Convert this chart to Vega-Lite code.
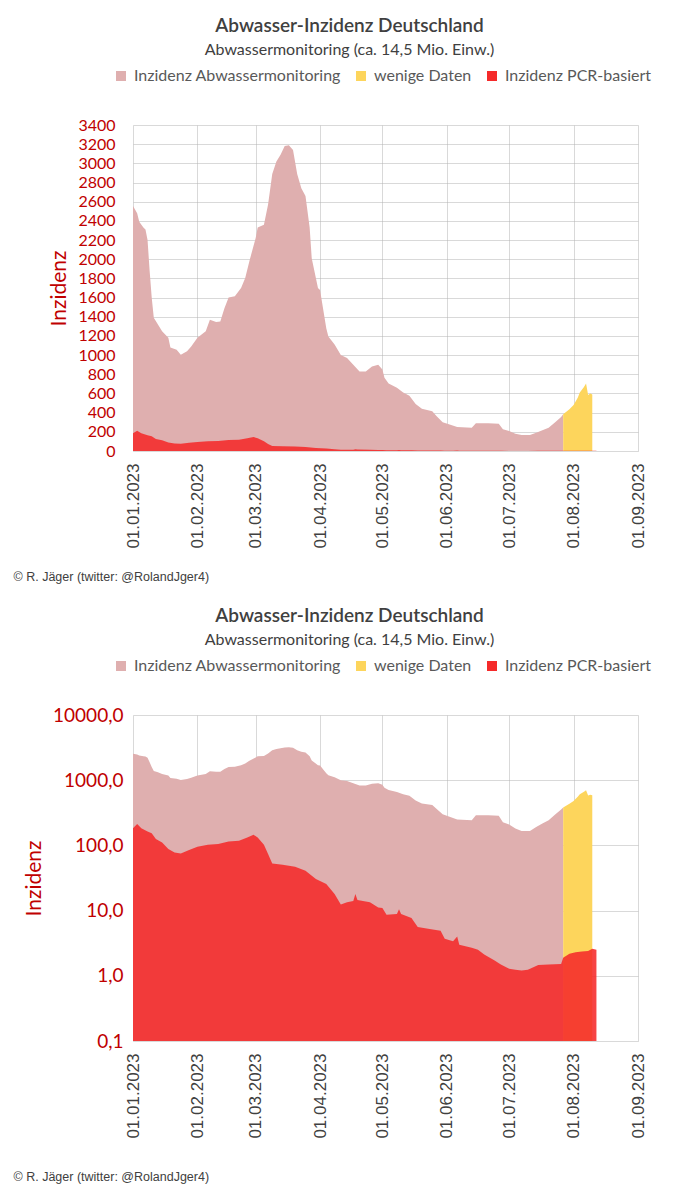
{
  "$schema": "https://vega.github.io/schema/vega-lite/v6.json",
  "background": "white",
  "padding": {"left": 13, "top": 17, "right": 5, "bottom": 5},
  "datasets": {
    "abw": [
      {"date": "2023-01-01", "value": 2554, "series": "Inzidenz Abwassermonitoring"},
      {"date": "2023-01-03", "value": 2480, "series": "Inzidenz Abwassermonitoring"},
      {"date": "2023-01-04", "value": 2390, "series": "Inzidenz Abwassermonitoring"},
      {"date": "2023-01-06", "value": 2330, "series": "Inzidenz Abwassermonitoring"},
      {"date": "2023-01-07", "value": 2310, "series": "Inzidenz Abwassermonitoring"},
      {"date": "2023-01-08", "value": 2200, "series": "Inzidenz Abwassermonitoring"},
      {"date": "2023-01-09", "value": 1880, "series": "Inzidenz Abwassermonitoring"},
      {"date": "2023-01-10", "value": 1600, "series": "Inzidenz Abwassermonitoring"},
      {"date": "2023-01-11", "value": 1390, "series": "Inzidenz Abwassermonitoring"},
      {"date": "2023-01-13", "value": 1320, "series": "Inzidenz Abwassermonitoring"},
      {"date": "2023-01-15", "value": 1250, "series": "Inzidenz Abwassermonitoring"},
      {"date": "2023-01-18", "value": 1180, "series": "Inzidenz Abwassermonitoring"},
      {"date": "2023-01-19", "value": 1080, "series": "Inzidenz Abwassermonitoring"},
      {"date": "2023-01-22", "value": 1055, "series": "Inzidenz Abwassermonitoring"},
      {"date": "2023-01-24", "value": 1005, "series": "Inzidenz Abwassermonitoring"},
      {"date": "2023-01-27", "value": 1040, "series": "Inzidenz Abwassermonitoring"},
      {"date": "2023-01-29", "value": 1090, "series": "Inzidenz Abwassermonitoring"},
      {"date": "2023-02-01", "value": 1180, "series": "Inzidenz Abwassermonitoring"},
      {"date": "2023-02-05", "value": 1250, "series": "Inzidenz Abwassermonitoring"},
      {"date": "2023-02-07", "value": 1370, "series": "Inzidenz Abwassermonitoring"},
      {"date": "2023-02-10", "value": 1345, "series": "Inzidenz Abwassermonitoring"},
      {"date": "2023-02-12", "value": 1350, "series": "Inzidenz Abwassermonitoring"},
      {"date": "2023-02-14", "value": 1490, "series": "Inzidenz Abwassermonitoring"},
      {"date": "2023-02-16", "value": 1600, "series": "Inzidenz Abwassermonitoring"},
      {"date": "2023-02-19", "value": 1615, "series": "Inzidenz Abwassermonitoring"},
      {"date": "2023-02-22", "value": 1700, "series": "Inzidenz Abwassermonitoring"},
      {"date": "2023-02-24", "value": 1805, "series": "Inzidenz Abwassermonitoring"},
      {"date": "2023-02-26", "value": 1980, "series": "Inzidenz Abwassermonitoring"},
      {"date": "2023-03-01", "value": 2220, "series": "Inzidenz Abwassermonitoring"},
      {"date": "2023-03-02", "value": 2330, "series": "Inzidenz Abwassermonitoring"},
      {"date": "2023-03-05", "value": 2360, "series": "Inzidenz Abwassermonitoring"},
      {"date": "2023-03-07", "value": 2570, "series": "Inzidenz Abwassermonitoring"},
      {"date": "2023-03-09", "value": 2890, "series": "Inzidenz Abwassermonitoring"},
      {"date": "2023-03-11", "value": 3020, "series": "Inzidenz Abwassermonitoring"},
      {"date": "2023-03-13", "value": 3090, "series": "Inzidenz Abwassermonitoring"},
      {"date": "2023-03-15", "value": 3180, "series": "Inzidenz Abwassermonitoring"},
      {"date": "2023-03-17", "value": 3190, "series": "Inzidenz Abwassermonitoring"},
      {"date": "2023-03-19", "value": 3140, "series": "Inzidenz Abwassermonitoring"},
      {"date": "2023-03-21", "value": 2890, "series": "Inzidenz Abwassermonitoring"},
      {"date": "2023-03-23", "value": 2740, "series": "Inzidenz Abwassermonitoring"},
      {"date": "2023-03-25", "value": 2660, "series": "Inzidenz Abwassermonitoring"},
      {"date": "2023-03-27", "value": 2330, "series": "Inzidenz Abwassermonitoring"},
      {"date": "2023-03-28", "value": 2010, "series": "Inzidenz Abwassermonitoring"},
      {"date": "2023-03-31", "value": 1700, "series": "Inzidenz Abwassermonitoring"},
      {"date": "2023-04-01", "value": 1680, "series": "Inzidenz Abwassermonitoring"},
      {"date": "2023-04-04", "value": 1280, "series": "Inzidenz Abwassermonitoring"},
      {"date": "2023-04-05", "value": 1195, "series": "Inzidenz Abwassermonitoring"},
      {"date": "2023-04-08", "value": 1110, "series": "Inzidenz Abwassermonitoring"},
      {"date": "2023-04-11", "value": 1000, "series": "Inzidenz Abwassermonitoring"},
      {"date": "2023-04-14", "value": 970, "series": "Inzidenz Abwassermonitoring"},
      {"date": "2023-04-17", "value": 900, "series": "Inzidenz Abwassermonitoring"},
      {"date": "2023-04-20", "value": 830, "series": "Inzidenz Abwassermonitoring"},
      {"date": "2023-04-23", "value": 830, "series": "Inzidenz Abwassermonitoring"},
      {"date": "2023-04-26", "value": 880, "series": "Inzidenz Abwassermonitoring"},
      {"date": "2023-04-29", "value": 900, "series": "Inzidenz Abwassermonitoring"},
      {"date": "2023-05-01", "value": 850, "series": "Inzidenz Abwassermonitoring"},
      {"date": "2023-05-02", "value": 765, "series": "Inzidenz Abwassermonitoring"},
      {"date": "2023-05-04", "value": 705, "series": "Inzidenz Abwassermonitoring"},
      {"date": "2023-05-08", "value": 660, "series": "Inzidenz Abwassermonitoring"},
      {"date": "2023-05-11", "value": 610, "series": "Inzidenz Abwassermonitoring"},
      {"date": "2023-05-14", "value": 575, "series": "Inzidenz Abwassermonitoring"},
      {"date": "2023-05-17", "value": 490, "series": "Inzidenz Abwassermonitoring"},
      {"date": "2023-05-20", "value": 440, "series": "Inzidenz Abwassermonitoring"},
      {"date": "2023-05-25", "value": 415, "series": "Inzidenz Abwassermonitoring"},
      {"date": "2023-05-27", "value": 365, "series": "Inzidenz Abwassermonitoring"},
      {"date": "2023-05-30", "value": 300, "series": "Inzidenz Abwassermonitoring"},
      {"date": "2023-06-02", "value": 278, "series": "Inzidenz Abwassermonitoring"},
      {"date": "2023-06-06", "value": 250, "series": "Inzidenz Abwassermonitoring"},
      {"date": "2023-06-13", "value": 243, "series": "Inzidenz Abwassermonitoring"},
      {"date": "2023-06-15", "value": 289, "series": "Inzidenz Abwassermonitoring"},
      {"date": "2023-06-21", "value": 289, "series": "Inzidenz Abwassermonitoring"},
      {"date": "2023-06-26", "value": 285, "series": "Inzidenz Abwassermonitoring"},
      {"date": "2023-06-28", "value": 226, "series": "Inzidenz Abwassermonitoring"},
      {"date": "2023-07-01", "value": 209, "series": "Inzidenz Abwassermonitoring"},
      {"date": "2023-07-04", "value": 181, "series": "Inzidenz Abwassermonitoring"},
      {"date": "2023-07-07", "value": 167, "series": "Inzidenz Abwassermonitoring"},
      {"date": "2023-07-11", "value": 167, "series": "Inzidenz Abwassermonitoring"},
      {"date": "2023-07-14", "value": 191, "series": "Inzidenz Abwassermonitoring"},
      {"date": "2023-07-17", "value": 216, "series": "Inzidenz Abwassermonitoring"},
      {"date": "2023-07-20", "value": 243, "series": "Inzidenz Abwassermonitoring"},
      {"date": "2023-07-23", "value": 296, "series": "Inzidenz Abwassermonitoring"},
      {"date": "2023-07-26", "value": 355, "series": "Inzidenz Abwassermonitoring"},
      {"date": "2023-07-27", "value": 383, "series": "Inzidenz Abwassermonitoring"},
      {"date": "2023-07-27", "value": 383, "series": "wenige Daten"},
      {"date": "2023-07-30", "value": 435, "series": "wenige Daten"},
      {"date": "2023-08-01", "value": 480, "series": "wenige Daten"},
      {"date": "2023-08-03", "value": 556, "series": "wenige Daten"},
      {"date": "2023-08-04", "value": 609, "series": "wenige Daten"},
      {"date": "2023-08-06", "value": 668, "series": "wenige Daten"},
      {"date": "2023-08-07", "value": 703, "series": "wenige Daten"},
      {"date": "2023-08-08", "value": 585, "series": "wenige Daten"},
      {"date": "2023-08-09", "value": 600, "series": "wenige Daten"},
      {"date": "2023-08-10", "value": 590, "series": "wenige Daten"}
    ],
    "pcr": [
      {"date": "2023-01-01", "value": 184, "series": "Inzidenz PCR-basiert"},
      {"date": "2023-01-03", "value": 212, "series": "Inzidenz PCR-basiert"},
      {"date": "2023-01-05", "value": 184, "series": "Inzidenz PCR-basiert"},
      {"date": "2023-01-08", "value": 164, "series": "Inzidenz PCR-basiert"},
      {"date": "2023-01-10", "value": 153, "series": "Inzidenz PCR-basiert"},
      {"date": "2023-01-12", "value": 125, "series": "Inzidenz PCR-basiert"},
      {"date": "2023-01-15", "value": 111, "series": "Inzidenz PCR-basiert"},
      {"date": "2023-01-18", "value": 88, "series": "Inzidenz PCR-basiert"},
      {"date": "2023-01-21", "value": 78, "series": "Inzidenz PCR-basiert"},
      {"date": "2023-01-24", "value": 75, "series": "Inzidenz PCR-basiert"},
      {"date": "2023-01-28", "value": 85, "series": "Inzidenz PCR-basiert"},
      {"date": "2023-02-01", "value": 95, "series": "Inzidenz PCR-basiert"},
      {"date": "2023-02-06", "value": 102, "series": "Inzidenz PCR-basiert"},
      {"date": "2023-02-11", "value": 105, "series": "Inzidenz PCR-basiert"},
      {"date": "2023-02-16", "value": 115, "series": "Inzidenz PCR-basiert"},
      {"date": "2023-02-21", "value": 118, "series": "Inzidenz PCR-basiert"},
      {"date": "2023-02-25", "value": 132, "series": "Inzidenz PCR-basiert"},
      {"date": "2023-02-28", "value": 146, "series": "Inzidenz PCR-basiert"},
      {"date": "2023-03-02", "value": 132, "series": "Inzidenz PCR-basiert"},
      {"date": "2023-03-05", "value": 102, "series": "Inzidenz PCR-basiert"},
      {"date": "2023-03-07", "value": 74, "series": "Inzidenz PCR-basiert"},
      {"date": "2023-03-09", "value": 53, "series": "Inzidenz PCR-basiert"},
      {"date": "2023-03-14", "value": 50.6, "series": "Inzidenz PCR-basiert"},
      {"date": "2023-03-20", "value": 47, "series": "Inzidenz PCR-basiert"},
      {"date": "2023-03-25", "value": 41, "series": "Inzidenz PCR-basiert"},
      {"date": "2023-03-30", "value": 30.5, "series": "Inzidenz PCR-basiert"},
      {"date": "2023-04-04", "value": 25.6, "series": "Inzidenz PCR-basiert"},
      {"date": "2023-04-08", "value": 18, "series": "Inzidenz PCR-basiert"},
      {"date": "2023-04-11", "value": 12.4, "series": "Inzidenz PCR-basiert"},
      {"date": "2023-04-14", "value": 13.4, "series": "Inzidenz PCR-basiert"},
      {"date": "2023-04-17", "value": 14, "series": "Inzidenz PCR-basiert"},
      {"date": "2023-04-18", "value": 18, "series": "Inzidenz PCR-basiert"},
      {"date": "2023-04-19", "value": 14.6, "series": "Inzidenz PCR-basiert"},
      {"date": "2023-04-25", "value": 13.4, "series": "Inzidenz PCR-basiert"},
      {"date": "2023-04-29", "value": 11.2, "series": "Inzidenz PCR-basiert"},
      {"date": "2023-05-01", "value": 11.0, "series": "Inzidenz PCR-basiert"},
      {"date": "2023-05-03", "value": 8.6, "series": "Inzidenz PCR-basiert"},
      {"date": "2023-05-08", "value": 8.9, "series": "Inzidenz PCR-basiert"},
      {"date": "2023-05-09", "value": 10.5, "series": "Inzidenz PCR-basiert"},
      {"date": "2023-05-10", "value": 8.9, "series": "Inzidenz PCR-basiert"},
      {"date": "2023-05-15", "value": 7.7, "series": "Inzidenz PCR-basiert"},
      {"date": "2023-05-18", "value": 5.6, "series": "Inzidenz PCR-basiert"},
      {"date": "2023-05-23", "value": 5.25, "series": "Inzidenz PCR-basiert"},
      {"date": "2023-05-29", "value": 4.9, "series": "Inzidenz PCR-basiert"},
      {"date": "2023-05-31", "value": 3.7, "series": "Inzidenz PCR-basiert"},
      {"date": "2023-06-04", "value": 3.4, "series": "Inzidenz PCR-basiert"},
      {"date": "2023-06-06", "value": 4.0, "series": "Inzidenz PCR-basiert"},
      {"date": "2023-06-07", "value": 3.0, "series": "Inzidenz PCR-basiert"},
      {"date": "2023-06-13", "value": 2.7, "series": "Inzidenz PCR-basiert"},
      {"date": "2023-06-16", "value": 2.5, "series": "Inzidenz PCR-basiert"},
      {"date": "2023-06-19", "value": 2.12, "series": "Inzidenz PCR-basiert"},
      {"date": "2023-06-24", "value": 1.72, "series": "Inzidenz PCR-basiert"},
      {"date": "2023-06-27", "value": 1.49, "series": "Inzidenz PCR-basiert"},
      {"date": "2023-07-01", "value": 1.28, "series": "Inzidenz PCR-basiert"},
      {"date": "2023-07-04", "value": 1.24, "series": "Inzidenz PCR-basiert"},
      {"date": "2023-07-07", "value": 1.21, "series": "Inzidenz PCR-basiert"},
      {"date": "2023-07-10", "value": 1.24, "series": "Inzidenz PCR-basiert"},
      {"date": "2023-07-15", "value": 1.47, "series": "Inzidenz PCR-basiert"},
      {"date": "2023-07-20", "value": 1.49, "series": "Inzidenz PCR-basiert"},
      {"date": "2023-07-26", "value": 1.52, "series": "Inzidenz PCR-basiert"},
      {"date": "2023-07-27", "value": 1.89, "series": "Inzidenz PCR-basiert"},
      {"date": "2023-07-30", "value": 2.17, "series": "Inzidenz PCR-basiert"},
      {"date": "2023-08-02", "value": 2.3, "series": "Inzidenz PCR-basiert"},
      {"date": "2023-08-05", "value": 2.35, "series": "Inzidenz PCR-basiert"},
      {"date": "2023-08-08", "value": 2.4, "series": "Inzidenz PCR-basiert"},
      {"date": "2023-08-10", "value": 2.59, "series": "Inzidenz PCR-basiert"},
      {"date": "2023-08-12", "value": 2.5, "series": "Inzidenz PCR-basiert"}
    ]
  },
  "config": {
    "font": "Lato",
    "view": {"stroke": null},
    "concat": {"spacing": 24},
    "axis": {"gridColor": "#B4B4B4", "gridOpacity": 0.5, "ticks": false, "zindex": 1},
    "title": {
      "font": "Lato", "fontSize": 19, "fontWeight": 600, "color": "#404040",
      "subtitleFont": "Lato", "subtitleFontSize": 16, "subtitleColor": "#404040",
      "subtitlePadding": 6, "anchor": "middle", "frame": "group", "dx": -36, "offset": 10
    },
    "legend": {
      "orient": "none", "direction": "horizontal", "legendX": -20, "legendY": -57,
      "title": null, "symbolType": "square", "symbolSize": 100, "symbolStrokeWidth": 0,
      "labelFont": "Lato", "labelFontSize": 16, "labelColor": "#595959", "labelLimit": 0,
      "labelOffset": 5, "columnPadding": 12, "symbolOpacity": 1
    }
  },
  "resolve": {"scale": {"y": "independent"}, "legend": {"color": "independent"}},
  "vconcat": [
    {
      "width": 505,
      "height": 326,
      "title": {"text": "Abwasser-Inzidenz Deutschland", "subtitle": "Abwassermonitoring (ca. 14,5 Mio. Einw.)"},
      "encoding": {
        "x": {
          "field": "date", "type": "temporal",
          "scale": {"type": "utc", "domain": [{"year": 2023, "month": 1, "date": 1, "utc": true}, {"year": 2023, "month": 9, "date": 1, "utc": true}]},
          "axis": {
            "values": [
              {"year": 2023, "month": 1, "date": 1, "utc": true},
              {"year": 2023, "month": 2, "date": 1, "utc": true},
              {"year": 2023, "month": 3, "date": 1, "utc": true},
              {"year": 2023, "month": 4, "date": 1, "utc": true},
              {"year": 2023, "month": 5, "date": 1, "utc": true},
              {"year": 2023, "month": 6, "date": 1, "utc": true},
              {"year": 2023, "month": 7, "date": 1, "utc": true},
              {"year": 2023, "month": 8, "date": 1, "utc": true},
              {"year": 2023, "month": 9, "date": 1, "utc": true}
            ],
            "labelExpr": "utcFormat(datum.value, '%d.%m.%Y')",
            "labelAngle": -90, "labelFont": "Liberation Sans", "labelFontSize": 17,
            "labelColor": "#404040", "labelPadding": 12, "labelOverlap": false,
            "domainColor": "#D9D9D9",
            "title": "© R. Jäger (twitter: @RolandJger4)",
            "titleFont": "Liberation Sans", "titleFontSize": 12.5, "titleFontWeight": "normal",
            "titleColor": "#404040", "titleAnchor": "start", "titleAlign": "left",
            "titleX": -120, "titleY": 125, "titleBaseline": "middle"
          }
        },
        "y": {
          "field": "value", "type": "quantitative", "stack": null,
          "scale": {"domain": [0, 3400], "nice": false},
          "axis": {
            "values": [0, 200, 400, 600, 800, 1000, 1200, 1400, 1600, 1800, 2000, 2200, 2400, 2600, 2800, 3000, 3200, 3400],
            "format": "d", "labelFont": "Lato", "labelFontSize": 16, "labelColor": "#C00000",
            "labelPadding": 18, "domain": false,
            "title": "Inzidenz", "titleFont": "Lato", "titleFontSize": 21, "titleFontWeight": "normal",
            "titleColor": "#C00000", "titlePadding": 8
          }
        },
        "color": {
          "field": "series", "type": "nominal",
          "scale": {"domain": ["Inzidenz Abwassermonitoring", "wenige Daten", "Inzidenz PCR-basiert"], "range": ["#DFAFAF", "#FDD55C", "#F52A2A"]}
        }
      },
      "layer": [
        {"data": {"name": "abw"}, "mark": {"type": "area", "interpolate": "linear"}},
        {"data": {"name": "pcr"}, "mark": {"type": "area", "interpolate": "linear", "opacity": 0.88}}
      ]
    },
    {
      "width": 505,
      "height": 326,
      "title": {"text": "Abwasser-Inzidenz Deutschland", "subtitle": "Abwassermonitoring (ca. 14,5 Mio. Einw.)"},
      "encoding": {
        "x": {
          "field": "date", "type": "temporal",
          "scale": {"type": "utc", "domain": [{"year": 2023, "month": 1, "date": 1, "utc": true}, {"year": 2023, "month": 9, "date": 1, "utc": true}]},
          "axis": {
            "values": [
              {"year": 2023, "month": 1, "date": 1, "utc": true},
              {"year": 2023, "month": 2, "date": 1, "utc": true},
              {"year": 2023, "month": 3, "date": 1, "utc": true},
              {"year": 2023, "month": 4, "date": 1, "utc": true},
              {"year": 2023, "month": 5, "date": 1, "utc": true},
              {"year": 2023, "month": 6, "date": 1, "utc": true},
              {"year": 2023, "month": 7, "date": 1, "utc": true},
              {"year": 2023, "month": 8, "date": 1, "utc": true},
              {"year": 2023, "month": 9, "date": 1, "utc": true}
            ],
            "labelExpr": "utcFormat(datum.value, '%d.%m.%Y')",
            "labelAngle": -90, "labelFont": "Liberation Sans", "labelFontSize": 17,
            "labelColor": "#404040", "labelPadding": 12, "labelOverlap": false,
            "domainColor": "#D9D9D9",
            "title": "© R. Jäger (twitter: @RolandJger4)",
            "titleFont": "Liberation Sans", "titleFontSize": 12.5, "titleFontWeight": "normal",
            "titleColor": "#404040", "titleAnchor": "start", "titleAlign": "left",
            "titleX": -120, "titleY": 135, "titleBaseline": "middle"
          }
        },
        "y": {
          "field": "value", "type": "quantitative", "stack": null,
          "scale": {"type": "log", "domain": [0.1, 10000], "nice": false, "clamp": true},
          "axis": {
            "values": [0.1, 1, 10, 100, 1000, 10000],
            "labelExpr": "replace(format(datum.value, '.1f'), '.', ',')",
            "labelFont": "Lato", "labelFontSize": 19, "labelColor": "#C00000",
            "labelPadding": 10, "domain": false,
            "title": "Inzidenz", "titleFont": "Lato", "titleFontSize": 21, "titleFontWeight": "normal",
            "titleColor": "#C00000", "titlePadding": 8
          }
        },
        "color": {
          "field": "series", "type": "nominal",
          "scale": {"domain": ["Inzidenz Abwassermonitoring", "wenige Daten", "Inzidenz PCR-basiert"], "range": ["#DFAFAF", "#FDD55C", "#F52A2A"]}
        }
      },
      "layer": [
        {"data": {"name": "abw"}, "mark": {"type": "area", "interpolate": "linear"}},
        {"data": {"name": "pcr"}, "mark": {"type": "area", "interpolate": "linear", "opacity": 0.88}}
      ]
    }
  ]
}
